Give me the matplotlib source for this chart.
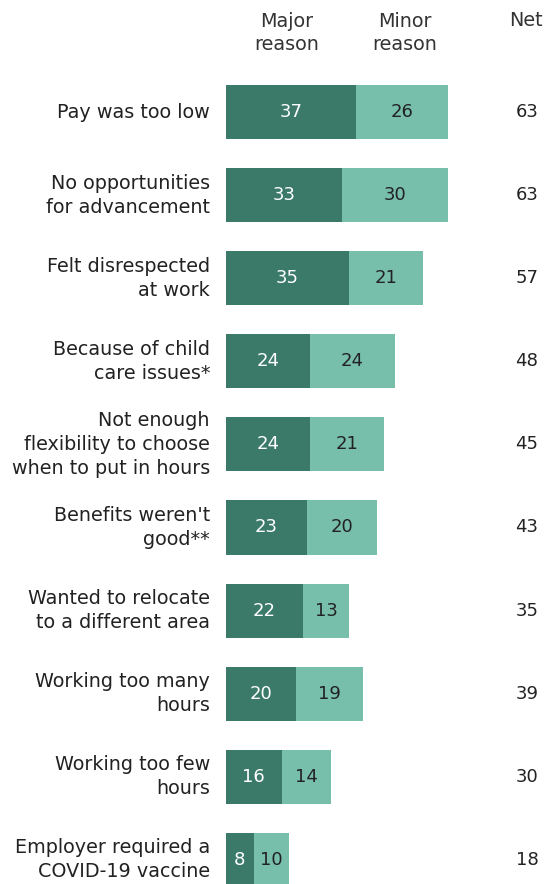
import matplotlib
matplotlib.use("Agg")
import matplotlib.pyplot as plt

reasons = [
    "Pay was too low",
    "No opportunities\nfor advancement",
    "Felt disrespected\nat work",
    "Because of child\ncare issues*",
    "Not enough\nflexibility to choose\nwhen to put in hours",
    "Benefits weren't\ngood**",
    "Wanted to relocate\nto a different area",
    "Working too many\nhours",
    "Working too few\nhours",
    "Employer required a\nCOVID-19 vaccine",
]
major = [37, 33, 35, 24, 24, 23, 22, 20, 16, 8]
minor = [26, 30, 21, 24, 21, 20, 13, 19, 14, 10]
net = [63, 63, 57, 48, 45, 43, 35, 39, 30, 18]

dark = "#3b7a69"
light = "#77bfab"

plt.rcParams['font.family'] = ['DejaVu Sans']

W, H = 544, 884
fig = plt.figure(figsize=(W / 100, H / 100), dpi=100)

x0_px = 225.5
ppu = 3.53
top_px = 112
step_px = 83.1
units = (W - x0_px) / ppu
ax = fig.add_axes([x0_px / W, 0, 1 - x0_px / W, 1])
ax.set_xlim(0, units)
ax.set_ylim((H - top_px) / step_px, -top_px / step_px)
ax.axis("off")

rows = range(len(reasons))
ax.barh(rows, major, height=0.65, color=dark)
ax.barh(rows, minor, left=major, height=0.65, color=light)

fs = 13
lfs = 13.8
for i in rows:
    ax.text(major[i] / 2, i, str(major[i]), color="white", ha="center", va="center", fontsize=fs)
    ax.text(major[i] + minor[i] / 2, i, str(minor[i]), color="#222222", ha="center", va="center", fontsize=fs)
    ax.text((527 - x0_px) / ppu, i, str(net[i]), color="#222222", ha="center", va="center", fontsize=fs)
    ax.text(-(x0_px - 210) / ppu, i, reasons[i], color="#222222", ha="right", va="center",
            fontsize=lfs, linespacing=1.33)

hy = -(top_px - 33) / step_px
ax.text((287 - x0_px) / ppu, hy, "Major\nreason", ha="center", va="center", fontsize=lfs,
        color="#333333", linespacing=1.33)
ax.text((405 - x0_px) / ppu, hy, "Minor\nreason", ha="center", va="center", fontsize=lfs,
        color="#333333", linespacing=1.33)
ax.text((526 - x0_px) / ppu, -(top_px - 21) / step_px, "Net", ha="center", va="center", fontsize=lfs,
        color="#333333")

fig.savefig("out.png", dpi=100)
